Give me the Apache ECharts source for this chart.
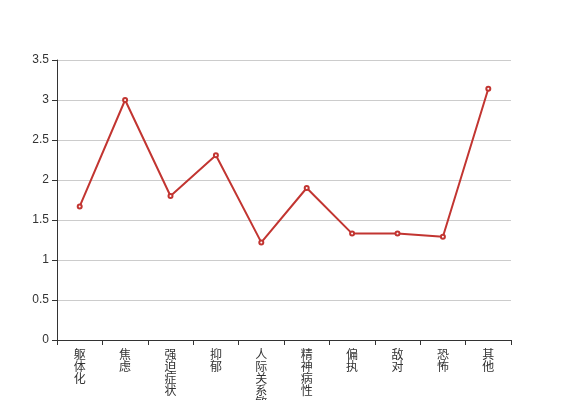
<!DOCTYPE html>
<html><head><meta charset="utf-8">
<script src="https://cdn.jsdelivr.net/npm/echarts@6/dist/echarts.min.js"></script>
<style>html,body{margin:0;padding:0;background:#fff}#c{width:567px;height:400px}</style>
</head><body><div id="c"></div>
<script>
var categories = ["躯体化","焦虑","强迫症状","抑郁","人际关系敏感","精神病性","偏执","敌对","恐怖","其他"];
var values = [1.67, 3.0, 1.80, 2.31, 1.22, 1.90, 1.33, 1.33, 1.29, 3.14];
var chart = echarts.init(document.getElementById('c'));
chart.setOption({
  animation: false,
  grid: {left: 57, right: 56, top: 60, bottom: 60, containLabel: false, outerBoundsMode: 'none'},
  xAxis: {
    type: 'category', data: categories, boundaryGap: true,
    axisLine: {lineStyle: {color: '#333'}},
    axisTick: {show: true, alignWithLabel: false, interval: 0, length: 5, lineStyle: {color: '#333'}},
    axisLabel: {color: '#333', fontSize: 12, lineHeight: 12, interval: 0, margin: 8,
      fontFamily: 'Noto Sans CJK SC',
      formatter: function (v) { return v.split('').join('\n'); }}
  },
  yAxis: {
    type: 'value', min: 0, max: 3.5, interval: 0.5,
    axisLine: {show: true, lineStyle: {color: '#333'}},
    axisTick: {show: true, length: 5, lineStyle: {color: '#333'}},
    axisLabel: {color: '#333', fontSize: 12, margin: 8},
    splitLine: {lineStyle: {color: '#ccc'}}
  },
  series: [{
    type: 'line', data: values,
    symbol: 'emptyCircle', symbolSize: 4,
    itemStyle: {color: '#c23531'},
    lineStyle: {color: '#c23531', width: 2}
  }]
});
</script></body></html>
